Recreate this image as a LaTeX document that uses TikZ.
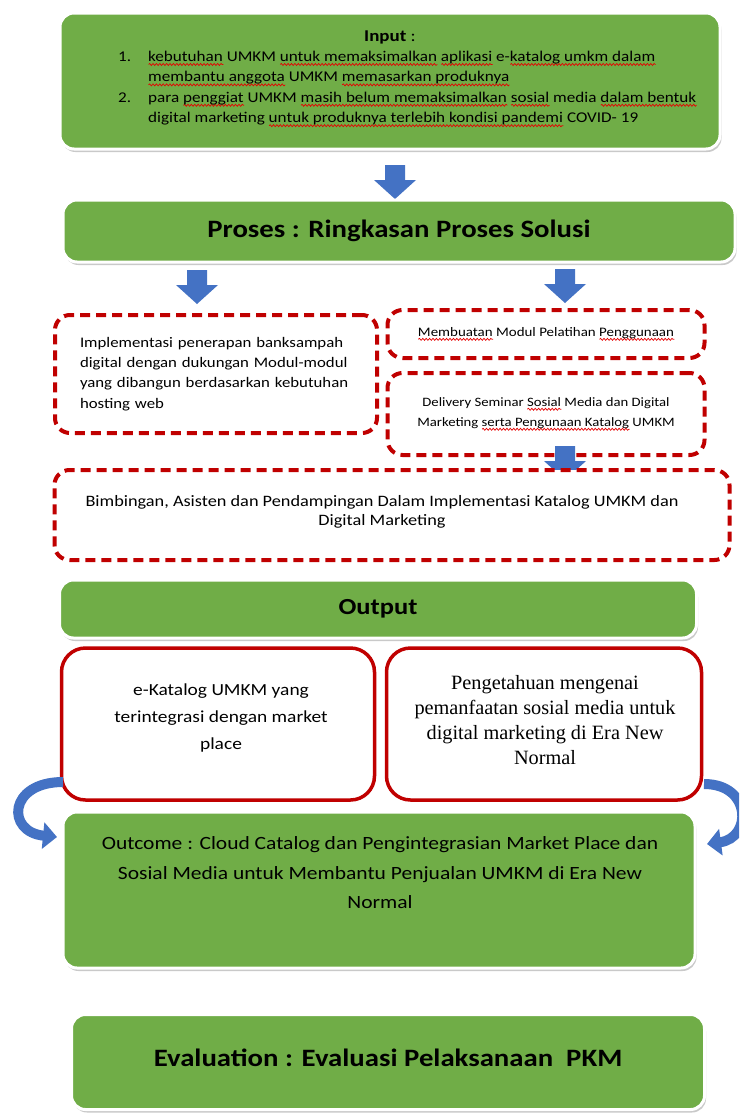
\documentclass[tikz,border=0pt]{standalone}
\usepackage{fontspec}
\setmainfont{Carlito}[FakeStretch=1.15]
\newfontfamily\tnr{Liberation Serif}
\usetikzlibrary{shadows,arrows.meta,decorations.pathmorphing}
\definecolor{gr}{RGB}{112,173,71}
\definecolor{dred}{RGB}{192,0,0}
\definecolor{ablue}{RGB}{68,114,196}
\definecolor{spred}{RGB}{230,0,0}
\newsavebox\rwbox
\newlength\rwlen
\newcommand\rw[1]{\sbox\rwbox{#1}\setlength\rwlen{\wd\rwbox}\leavevmode\rlap{\tikz[baseline=0pt]\draw[spred,solid,sharp corners,fill=none,line width=0.7pt,decorate,decoration={snake,amplitude=1pt,segment length=3.4pt}] (0pt,-3pt) -- (\rwlen,-3pt);}\usebox\rwbox}
\begin{document}
\begin{tikzpicture}[x=1pt,y=-1pt,
  greenbox/.style={draw=white, line width=3pt, fill=gr, rounded corners=14pt,
    drop shadow={shadow xshift=1.5pt,shadow yshift=-3pt,opacity=0.35,fill=black!60}, inner sep=0pt},
  dashbox/.style={draw=dred, line width=4pt, dash pattern=on 10pt off 6pt, rounded corners=15pt, fill=white, inner sep=0pt},
  redbox/.style={draw=dred, line width=3.5pt, rounded corners=24pt, fill=white, inner sep=0pt},
  txt/.style={inner sep=0pt, align=center},
  blockdown/.pic={\fill[ablue] (-10,0) -- (10,0) -- (10,15) -- (21,15) -- (0,34) -- (-21,15) -- (-10,15) -- cycle;},
  curvearrow/.style={draw=ablue, line width=10pt, -{Triangle[length=14pt,width=26pt]}},
]
\useasboundingbox (0,0) rectangle (739,1119);
\clip (0,0) rectangle (739,1119);
\fill[white] (0,0) rectangle (739,1119);

% Input
\node[greenbox, minimum width=660pt, minimum height=136pt] (input) at (390,81) {};
\node[txt, font=\fontsize{16.5}{20}\selectfont] (inputtitle) at (390,37) {\textbf{Input} :};
\node[txt, anchor=west, font=\fontsize{14.9}{20.4}\selectfont] (inputlist) at (118,88)
 {\begin{tabular}{@{}l@{\hspace{17pt}}l@{}}
  1. & \rw{kebutuhan} UMKM \rw{untuk memaksimalkan} \rw{aplikasi} e-\rw{katalog umkm dalam}\\
     & \rw{membantu anggota} UMKM \rw{memasarkan produknya}\\
  2. & para \rw{penggiat} UMKM \rw{masih belum memaksimalkan} \rw{sosial} media \rw{dalam bentuk}\\
     & digital marketing \rw{untuk produknya terlebih kondisi pandemi} COVID- 19
  \end{tabular}};

\pic at (395,165) {blockdown};

% Proses
\node[greenbox, minimum width=672pt, minimum height=62pt, font=\fontsize{25}{30}\selectfont\bfseries] (proses) at (399,231)
 {Proses : Ringkasan Proses Solusi};

\pic at (197,270) {blockdown};
\pic at (565,269) {blockdown};

% dashed boxes
\node[dashbox, minimum width=322pt, minimum height=118pt, text width=272pt, align=left,
      font=\fontsize{14.6}{20.3}\selectfont] (impl) at (216,374)
 {Implementasi penerapan banksampah\\ digital dengan dukungan Modul-modul\\ yang dibangun berdasarkan kebutuhan\\ hosting web\\[6pt]};
\node[dashbox, minimum width=317pt, minimum height=48pt, align=center,
      font=\fontsize{13}{16}\selectfont] (modul) at (546,334)
 {\rw{Membuatan} Modul Pelatihan \rw{Penggunaan}};
\node[dashbox, minimum width=317pt, minimum height=82pt, align=center,
      font=\fontsize{12.8}{20}\selectfont] (deliv) at (546,414)
 {Delivery Seminar \rw{Sosial} Media dan Digital\\ Marketing \rw{serta Pengunaan Katalog} UMKM};

\pic at (565,446) {blockdown};

\node[dashbox, minimum width=675pt, minimum height=90pt] (bimb) at (392,515) {};
\node[txt, font=\fontsize{15.9}{18.5}\selectfont] (bimbtext) at (382,512)
 {Bimbingan, Asisten dan Pendampingan Dalam Implementasi Katalog UMKM dan\\ Digital Marketing};

% Output
\node[greenbox, minimum width=637pt, minimum height=58pt, font=\fontsize{23}{28}\selectfont\bfseries] (output) at (378,609)
 {Output};

\node[redbox, minimum width=313pt, minimum height=152pt] (ekat) at (218,724) {};
\node[txt, font=\fontsize{16.9}{27}\selectfont] (ekattext) at (221,718)
 {e-Katalog UMKM yang\\ terintegrasi dengan market\\ place};
\node[redbox, minimum width=315pt, minimum height=152pt] (peng) at (544,724) {};
\node[txt, font=\tnr\fontsize{20.3}{24.7}\selectfont] (pengtext) at (545,720)
 {Pengetahuan mengenai\\ pemanfaatan sosial media untuk\\ digital marketing di Era New\\ Normal};

% Outcome
\node[greenbox, minimum width=632pt, minimum height=156pt] (outcome) at (379,890) {};
\node[txt, font=\fontsize{18.7}{29.5}\selectfont] (outtext) at (380,873)
 {Outcome : Cloud Catalog dan Pengintegrasian Market Place dan\\ Sosial Media untuk Membantu Penjualan UMKM di Era New\\ Normal};

\coordinate (lstart) at (63,782);
\coordinate (lend) at (57,837);
\coordinate (rstart) at (704,784);
\coordinate (rend) at (707,844);
\draw[curvearrow] (lstart) .. controls (8,782) and (6,832) .. (lend);
\draw[curvearrow] (rstart) .. controls (752,784) and (752,838) .. (rend);

% Evaluation
\node[greenbox, minimum width=633pt, minimum height=95pt] (eval) at (388,1062) {};
\node[txt, font=\fontsize{25}{30}\selectfont\bfseries] (evaltext) at (388,1058)
 {Evaluation : Evaluasi Pelaksanaan\ \ PKM};
\end{tikzpicture}
\end{document}
